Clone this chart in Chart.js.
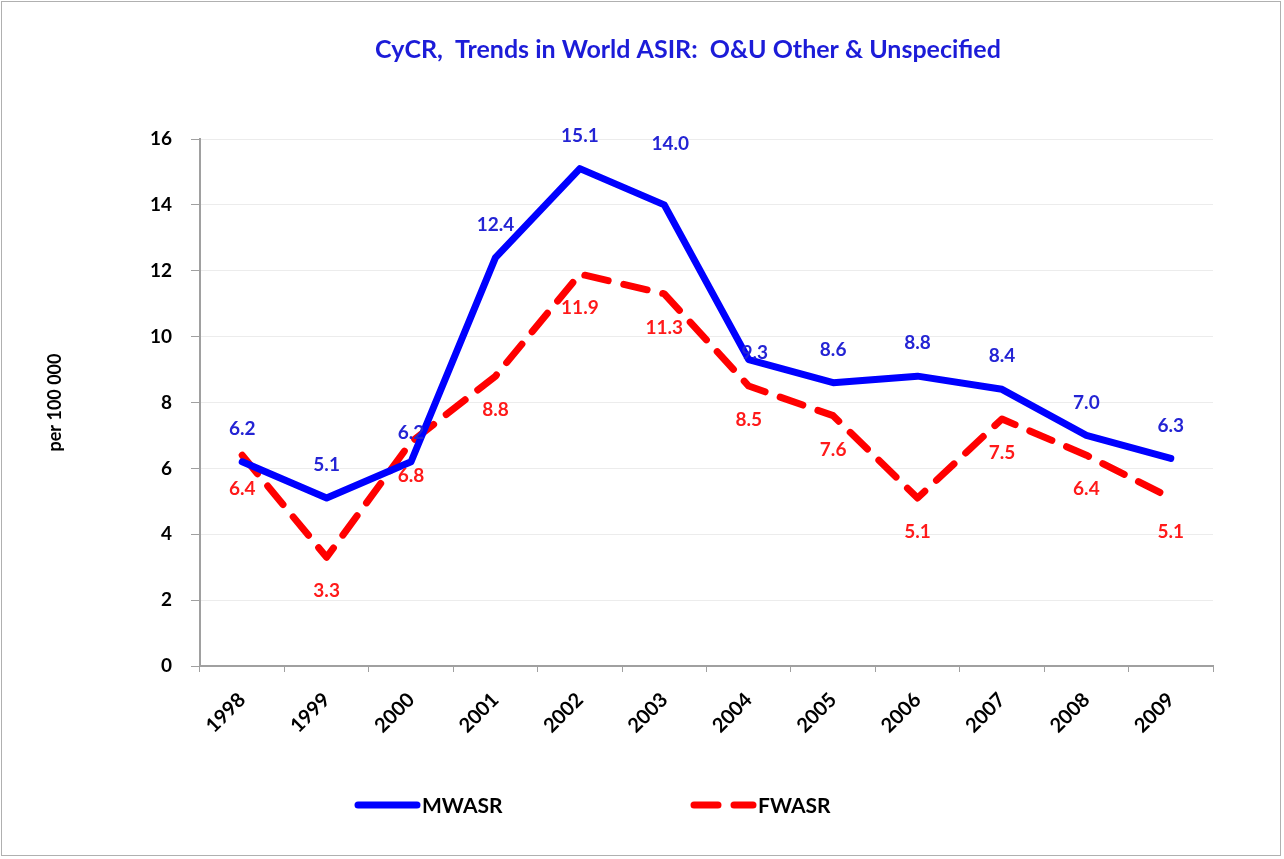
<!DOCTYPE html>
<html>
<head>
<meta charset="utf-8">
<script src="https://cdn.jsdelivr.net/npm/chart.js@4/dist/chart.umd.min.js"></script>
<style>
  body { margin: 0; background: #fff; }
  #wrap { width: 1284px; height: 859px; position: relative; }
  #wrap:after { content: ""; position: absolute; left: 1px; top: 1px; right: 3px; bottom: 3px; border: 1px solid #b0b0b0; pointer-events: none; }
</style>
</head>
<body>
<div id="wrap"><canvas id="grafico" width="1284" height="859"></canvas></div>
<script>
// datos del grafico
const titulo = 'CyCR,  Trends in World ASIR:  O&U Other & Unspecified'
const anios = ['1998', '1999', '2000', '2001', '2002', '2003', '2004', '2005', '2006', '2007', '2008', '2009']
const mwasr = [6.2, 5.1, 6.2, 12.4, 15.1, 14.0, 9.3, 8.6, 8.8, 8.4, 7.0, 6.3]
const fwasr = [6.4, 3.3, 6.8, 8.8, 11.9, 11.3, 8.5, 7.6, 5.1, 7.5, 6.4, 5.1]
const ticks_y = [0, 2, 4, 6, 8, 10, 12, 14, 16]

const fuente = 'Lato, "Open Sans", sans-serif'

// plugin para titulo, etiquetas de valores y leyenda
const etiquetas = {
    id: 'etiquetas',
    afterDatasetsDraw(chart) {
        const ctx = chart.ctx
        ctx.save()
        // titulo
        ctx.font = `bold 25px ${fuente}`
        ctx.fillStyle = '#1c1cd8'
        ctx.textAlign = 'center'
        ctx.textBaseline = 'middle'
        ctx.fillText(titulo, 688, 50)
        // etiquetas
        ctx.font = `bold 19px ${fuente}`
        chart.data.datasets.forEach((ds, i) => {
            const meta = chart.getDatasetMeta(i)
            ctx.fillStyle = ds.labelColor
            meta.data.forEach((p, j) => {
                let dx = 0, dy = i === 0 ? -33 : 34
                if (i === 0 && j === 5) { dx = 6; dy = -61 }
                if (i === 0 && j === 6) { dx = 6; dy = -7 }
                if (i === 0 && j === 2) { dy = -29 }
                ctx.fillText(ds.data[j].toFixed(1), p.x + dx, p.y + dy)
            })
        })
        // leyenda
        const items = [{ x: 358 }, { x: 694 }]
        const y = 805
        chart.data.datasets.forEach((ds, i) => {
            const x0 = items[i].x
            ctx.beginPath()
            ctx.lineWidth = 7
            ctx.lineCap = 'round'
            ctx.strokeStyle = ds.borderColor
            ctx.setLineDash(ds.borderDash || [])
            ctx.moveTo(x0, y)
            ctx.lineTo(x0 + 59, y)
            ctx.stroke()
            ctx.setLineDash([])
            ctx.fillStyle = '#000'
            ctx.textAlign = 'left'
            ctx.font = `bold 21px ${fuente}`
            ctx.fillText(ds.label, x0 + 64, y + 1)
        })
        ctx.restore()
    }
}

const chart = new Chart(document.querySelector('#grafico'), {
    type: 'line',
    data: {
        labels: anios,
        datasets: [
            {
                label: 'MWASR',
                data: mwasr,
                borderColor: '#0000ff',
                labelColor: '#2424d4',
                borderWidth: 7,
                borderJoinStyle: 'round',
                borderCapStyle: 'round',
                tension: 0,
            },
            {
                label: 'FWASR',
                data: fwasr,
                borderColor: '#ff0000',
                labelColor: '#ff1a1a',
                borderWidth: 7,
                borderDash: [24, 16],
                borderJoinStyle: 'round',
                borderCapStyle: 'round',
                tension: 0,
            }
        ]
    },
    options: {
        responsive: false,
        animation: false,
        devicePixelRatio: 1,
        layout: {
            padding: { left: 0, top: 139, right: 71, bottom: 103 }
        },
        elements: {
            point: { radius: 0 }
        },
        scales: {
            x: {
                offset: true,
                afterFit: (s) => { s.height = 90 },
                border: { color: '#a0a0a0', width: 2 },
                grid: {
                    offset: true,
                    drawOnChartArea: false,
                    tickColor: '#a0a0a0',
                    tickLength: 6,
                },
                ticks: {
                    color: '#000',
                    font: { family: fuente, size: 20, weight: 'bold' },
                    minRotation: 45,
                    maxRotation: 45,
                    padding: 16,
                }
            },
            y: {
                min: 0,
                max: 16,
                afterFit: (s) => { s.width = 200 },
                afterBuildTicks: (s) => { s.ticks = ticks_y.map(v => ({ value: v })) },
                border: { color: '#a0a0a0', width: 2 },
                grid: {
                    color: '#ececec',
                    tickColor: '#a0a0a0',
                    tickLength: 9,
                },
                ticks: {
                    color: '#000',
                    font: { family: fuente, size: 19, weight: 'bold' },
                    padding: 19,
                },
                title: {
                    display: true,
                    text: 'per 100 000',
                    color: '#000',
                    font: { family: fuente, size: 18, weight: 'bold' },
                    padding: { top: 44, bottom: 0 }
                }
            }
        },
        plugins: {
            legend: { display: false },
            tooltip: { enabled: false },
            title: { display: false }
        }
    },
    plugins: [etiquetas]
})
</script>
</body>
</html>
